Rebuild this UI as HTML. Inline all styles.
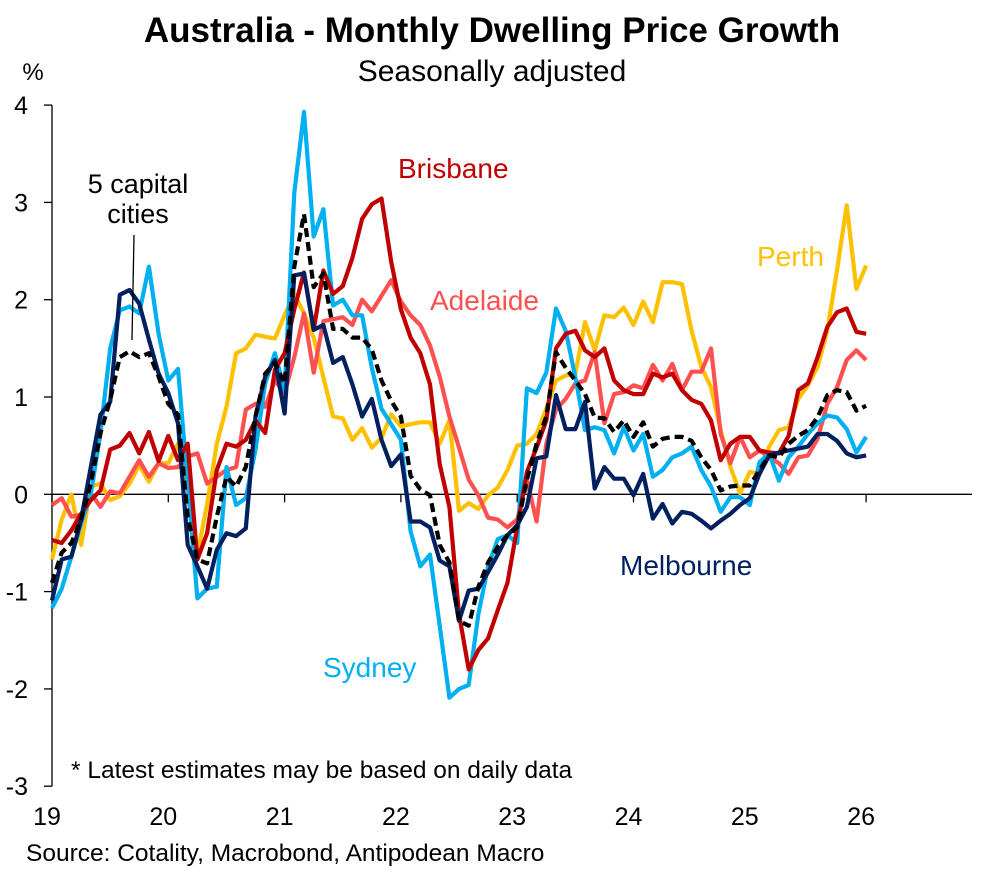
<!DOCTYPE html>
<html><head><meta charset="utf-8">
<style>
html,body{margin:0;padding:0;background:#fff;}
body{width:1007px;height:868px;overflow:hidden;font-family:"Liberation Sans",Arial,sans-serif;}
svg text{font-family:"Liberation Sans",Arial,sans-serif;}
</style></head>
<body>
<svg id="chart" width="1007" height="868" viewBox="0 0 1007 868" xmlns="http://www.w3.org/2000/svg">
<text x="492" y="42" text-anchor="middle" font-size="35" font-weight="bold">Australia - Monthly Dwelling Price Growth</text>
<text x="492" y="81" text-anchor="middle" font-size="30">Seasonally adjusted</text>
<text x="33" y="80" text-anchor="middle" font-size="24">%</text>
<g id="axes"></g>
<g id="series"></g>
<text x="138" y="193" text-anchor="middle" font-size="27">5 capital</text>
<text x="138" y="223" text-anchor="middle" font-size="27">cities</text>
<line x1="134" y1="235" x2="132" y2="340" stroke="#000" stroke-width="1.3"/>
<text x="398" y="178" font-size="28" fill="#C00000">Brisbane</text>
<text x="430" y="310" font-size="28" fill="#FF5050">Adelaide</text>
<text x="757" y="266" font-size="28" fill="#FFC000">Perth</text>
<text x="620" y="575" font-size="28" fill="#002060">Melbourne</text>
<text x="323" y="677" font-size="28" fill="#00B0F0">Sydney</text>
<text x="71" y="778" font-size="24.5">* Latest estimates may be based on daily data</text>
<text x="26" y="861" font-size="24.5">Source: Cotality, Macrobond, Antipodean Macro</text>
</svg>
<script>
const yTicks = [-3,-2,-1,0,1,2,3,4];
const xYears = [19,20,21,22,23,24,25,26];
const sydney = [-1.17,-0.97,-0.64,-0.3,0.0,0.63,1.5,1.89,1.93,1.86,2.34,1.65,1.17,1.29,0.11,-1.07,-0.97,-0.95,0.28,-0.11,-0.04,0.46,1.14,1.45,1.07,3.1,3.93,2.65,2.93,1.94,2.0,1.84,1.84,1.3,0.88,0.72,0.56,-0.38,-0.74,-0.62,-1.35,-2.09,-2.0,-1.96,-1.23,-0.74,-0.46,-0.42,-0.5,1.09,1.04,1.25,1.91,1.68,1.2,0.66,0.69,0.66,0.42,0.69,0.45,0.62,0.18,0.25,0.38,0.42,0.49,0.25,0.08,-0.18,-0.03,-0.03,-0.11,0.33,0.42,0.14,0.38,0.49,0.62,0.73,0.81,0.79,0.67,0.43,0.59];
const brisbane = [-0.47,-0.5,-0.37,-0.2,-0.06,0.04,0.46,0.5,0.63,0.42,0.64,0.34,0.6,0.35,0.52,-0.67,-0.4,0.25,0.52,0.49,0.56,0.76,0.63,1.28,1.45,1.9,2.28,1.69,2.3,2.06,2.14,2.43,2.83,2.98,3.04,2.39,1.9,1.61,1.45,1.13,0.31,-0.13,-1.23,-1.8,-1.6,-1.48,-1.19,-0.91,-0.34,0.23,0.48,0.76,1.5,1.65,1.68,1.48,1.41,1.5,1.17,1.07,1.03,1.03,1.24,1.2,1.24,1.07,0.97,0.93,0.76,0.35,0.52,0.59,0.59,0.45,0.43,0.42,0.6,1.07,1.14,1.41,1.72,1.87,1.91,1.67,1.65];
const adelaide = [-0.11,-0.04,-0.23,-0.21,0.01,-0.13,0.03,0.01,0.18,0.35,0.18,0.32,0.27,0.28,0.39,0.42,0.11,0.18,0.25,0.28,0.87,0.93,0.9,1.17,1.04,1.41,1.86,1.25,1.78,1.8,1.82,1.74,2.0,1.88,2.04,2.2,1.98,1.84,1.74,1.53,1.21,0.8,0.48,0.15,-0.01,-0.24,-0.26,-0.34,-0.26,0.15,-0.28,0.52,0.87,0.98,1.14,1.17,1.46,0.73,1.03,1.05,1.12,1.09,1.33,1.17,1.34,1.07,1.26,1.26,1.5,0.62,0.32,0.59,0.38,0.45,0.38,0.32,0.21,0.38,0.4,0.57,0.93,1.1,1.38,1.48,1.38];
const perth = [-0.67,-0.26,0.0,-0.52,0.08,0.11,-0.06,-0.02,0.11,0.3,0.13,0.32,0.32,0.52,0.1,-0.62,-0.1,0.52,0.9,1.45,1.5,1.64,1.62,1.6,1.84,2.06,1.86,1.61,1.2,0.8,0.78,0.56,0.68,0.48,0.58,0.82,0.7,0.72,0.74,0.74,0.52,0.76,-0.17,-0.09,-0.15,-0.01,0.07,0.25,0.5,0.52,0.62,0.88,1.17,1.22,1.24,1.77,1.48,1.84,1.82,1.92,1.74,1.98,1.77,2.18,2.18,2.16,1.68,1.31,1.1,0.66,0.28,0.01,0.23,0.21,0.49,0.66,0.69,0.98,1.12,1.31,1.68,2.3,2.97,2.11,2.35];
const melbourne = [-1.09,-0.67,-0.64,-0.26,0.28,0.82,0.95,2.05,2.1,1.96,1.59,1.24,1.04,0.73,-0.52,-0.74,-0.97,-0.57,-0.4,-0.43,-0.35,0.8,1.21,1.38,0.83,2.25,2.27,1.69,1.74,1.35,1.41,1.13,0.8,0.98,0.56,0.29,0.41,-0.28,-0.28,-0.34,-0.68,-0.74,-1.3,-0.99,-0.97,-0.8,-0.62,-0.42,-0.32,-0.13,0.37,0.39,1.02,0.67,0.67,0.95,0.06,0.28,0.16,0.16,-0.01,0.21,-0.25,-0.1,-0.3,-0.18,-0.2,-0.27,-0.35,-0.27,-0.2,-0.11,-0.04,0.21,0.4,0.43,0.45,0.47,0.49,0.62,0.62,0.55,0.42,0.38,0.4];
const capitals = [-0.91,-0.6,-0.5,-0.26,0.11,0.63,0.97,1.41,1.47,1.41,1.45,1.21,0.93,0.82,-0.23,-0.67,-0.71,-0.23,0.18,0.08,0.28,0.8,1.24,1.35,1.14,2.34,2.88,2.13,2.27,1.7,1.7,1.61,1.61,1.49,1.17,0.96,0.8,0.19,0.05,-0.01,-0.52,-0.7,-1.3,-1.35,-0.95,-0.7,-0.54,-0.42,-0.34,0.15,0.52,0.8,1.46,1.3,1.17,1.03,0.79,0.78,0.64,0.76,0.59,0.74,0.49,0.57,0.59,0.59,0.55,0.38,0.25,0.04,0.08,0.09,0.09,0.25,0.4,0.38,0.52,0.6,0.66,0.79,1.02,1.07,1.05,0.86,0.91];

const NS='http://www.w3.org/2000/svg';
const X0=52, YEARPX=116.3, Y0=494.3, UNIT=97.3;
function xMonth(i){return X0 + i*YEARPX/12;}
function xYear(y){return X0 + (y-19)*YEARPX;}
function yVal(v){return Y0 - v*UNIT;}
function mk(tag,attrs,parent){const e=document.createElementNS(NS,tag);for(const k in attrs)e.setAttribute(k,attrs[k]);parent.appendChild(e);return e;}

const axes=document.getElementById('axes');
let yAxis=mk('line',{x1:X0,y1:yVal(4),x2:X0,y2:yVal(-3),stroke:'#000','stroke-width':1.3},axes);


let xAxis=mk('line',{x1:X0,y1:Y0,x2:972,y2:Y0,stroke:'#000','stroke-width':1.3},axes);


yTicks.forEach(t=>{
  let tk=mk('line',{x1:X0-8,y1:yVal(t),x2:X0,y2:yVal(t),stroke:'#000','stroke-width':1.3},axes);
  
  
  let lb=mk('text',{x:28,y:yVal(t)+9,'text-anchor':'end','font-size':25},axes);
  lb.textContent=String(t);
  
  
});
xYears.forEach(y=>{
  let tk=mk('line',{x1:xYear(y),y1:Y0,x2:xYear(y),y2:Y0+8,stroke:'#000','stroke-width':1.3},axes);
  
  
  let lb=mk('text',{x:xYear(y)-5,y:825,'text-anchor':'middle','font-size':25},axes);
  lb.textContent=String(y);
  
  
});

const sg=document.getElementById('series');
function draw(data,color,name,dash){
  const pts=data.map((v,i)=>xMonth(i).toFixed(1)+','+yVal(v).toFixed(1)).join(' ');
  const attrs={points:pts,fill:'none',stroke:color,'stroke-width':4.2,'stroke-linejoin':'round'};
  if(dash)attrs['stroke-dasharray']=dash;
  let p=mk('polyline',attrs,sg);
  
  
}
draw(perth,'#FFC000','line-perth');
draw(adelaide,'#FF5050','line-adelaide');
draw(sydney,'#00B0F0','line-sydney');
draw(brisbane,'#C00000','line-brisbane');
draw(melbourne,'#002060','line-melbourne');
draw(capitals,'#000000','line-5-capital-cities','9 5');
</script>
</body></html>
